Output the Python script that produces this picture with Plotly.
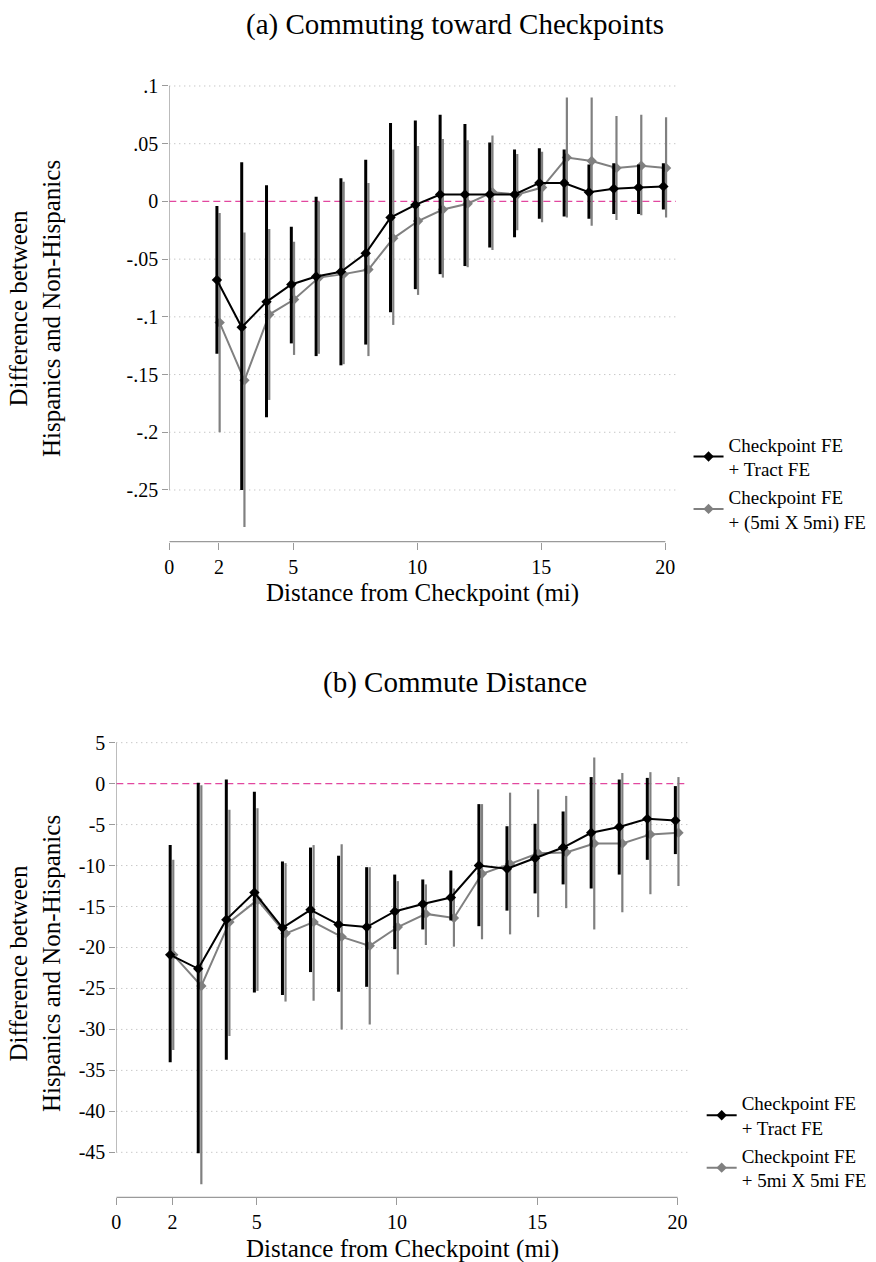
import plotly.graph_objects as go

# ---------------- data ----------------
distance = list(range(2, 21))
x_ticks = [0, 2, 5, 10, 15, 20]

# Panel (a): Commuting toward Checkpoints
a_tract = [-0.068, -0.109, -0.087, -0.072, -0.065, -0.061, -0.045, -0.014, -0.003,
           0.006, 0.006, 0.006, 0.006, 0.016, 0.016, 0.008, 0.011, 0.012, 0.013]
a_tract_hi = [-0.004, 0.034, 0.014, -0.022, 0.004, 0.020, 0.036, 0.068, 0.070,
              0.075, 0.067, 0.051, 0.045, 0.046, 0.045, 0.032, 0.033, 0.032, 0.033]
a_tract_lo = [-0.132, -0.250, -0.187, -0.123, -0.134, -0.142, -0.124, -0.096, -0.076,
              -0.063, -0.056, -0.040, -0.031, -0.015, -0.013, -0.015, -0.011, -0.011, -0.007]
a_grid = [-0.105, -0.155, -0.098, -0.085, -0.066, -0.063, -0.059, -0.032, -0.017,
          -0.007, -0.002, 0.008, 0.006, 0.012, 0.038, 0.035, 0.029, 0.031, 0.029]
a_grid_hi = [-0.010, -0.027, -0.024, -0.035, 0.000, 0.017, 0.016, 0.045, 0.048,
             0.054, 0.053, 0.057, 0.041, 0.043, 0.090, 0.090, 0.074, 0.075, 0.073]
a_grid_lo = [-0.200, -0.282, -0.172, -0.133, -0.132, -0.141, -0.134, -0.107, -0.081,
             -0.066, -0.057, -0.042, -0.025, -0.018, -0.014, -0.021, -0.016, -0.012, -0.014]
a_yticks = [0.1, 0.05, 0, -0.05, -0.1, -0.15, -0.2, -0.25]
a_yticklabels = [".1", ".05", "0", "-.05", "-.1", "-.15", "-.2", "-.25"]

# Panel (b): Commute Distance
b_tract = [-20.9, -22.6, -16.6, -13.3, -17.6, -15.4, -17.2, -17.5, -15.6,
           -14.7, -13.9, -10.0, -10.4, -9.1, -7.8, -6.0, -5.3, -4.3, -4.5]
b_tract_hi = [-7.5, 0.1, 0.5, -1.0, -9.5, -7.8, -8.8, -10.2, -11.1,
              -11.7, -10.6, -2.5, -5.2, -4.9, -3.4, 0.8, 0.5, 0.7, -0.3]
b_tract_lo = [-34.0, -45.1, -33.7, -25.5, -25.8, -23.0, -25.4, -24.8, -20.2,
              -17.8, -16.7, -17.4, -15.5, -13.4, -12.3, -12.8, -11.1, -9.3, -8.6]
b_grid = [-20.9, -24.7, -16.9, -14.2, -18.3, -16.9, -18.7, -19.8, -17.5,
          -15.9, -16.4, -11.0, -9.8, -8.5, -8.4, -7.3, -7.3, -6.2, -6.0]
b_grid_hi = [-9.3, -0.2, -3.2, -3.0, -9.7, -7.5, -7.4, -10.2, -11.9,
             -12.3, -12.8, -2.5, -1.1, -0.7, -1.5, 3.2, 1.3, 1.4, 0.8]
b_grid_lo = [-32.5, -48.9, -30.8, -25.3, -26.6, -26.5, -30.0, -29.4, -23.3,
             -19.7, -19.9, -19.0, -18.4, -16.3, -15.2, -17.8, -15.7, -13.5, -12.5]
b_yticks = [5, 0, -5, -10, -15, -20, -25, -30, -35, -40, -45]
b_yticklabels = ["5", "0", "-5", "-10", "-15", "-20", "-25", "-30", "-35", "-40", "-45"]

titles = ["(a) Commuting toward Checkpoints", "(b) Commute Distance"]
x_title = "Distance from Checkpoint (mi)"
y_title = "Difference between<br>Hispanics and Non-Hispanics"
leg_tract = "Checkpoint FE<br>+ Tract FE"
leg_grid_a = "Checkpoint FE<br>+ (5mi X 5mi) FE"
leg_grid_b = "Checkpoint FE<br>+ 5mi X 5mi FE"

# ---------------- styling ----------------
FONT = "Liberation Serif, Times New Roman, Times, serif"
BLACK = "#000000"
GRAY = "#808080"
AXC = "#9a9a9a"
GRIDC = "#b0b0b0"
PINK = "#e2479f"
DODGE_T = -0.08
DODGE_G = 0.03

fig = go.Figure()


def add_series(xaxis, yaxis, y, hi, lo, color, name, lw, ew, legend, rank):
    xs = [d + (DODGE_T if color == BLACK else DODGE_G) for d in distance]
    fig.add_trace(go.Scatter(
        x=xs, y=y, mode="lines+markers", name=name,
        xaxis=xaxis, yaxis=yaxis, legend=legend, legendrank=rank,
        line=dict(color=color, width=lw),
        marker=dict(symbol="diamond", size=8, color=color),
        error_y=dict(type="data", symmetric=False,
                     array=[h - v for h, v in zip(hi, y)],
                     arrayminus=[v - l for v, l in zip(y, lo)],
                     color=color, thickness=ew, width=0),
        hoverinfo="x+y",
    ))


add_series("x", "y", a_grid, a_grid_hi, a_grid_lo, GRAY, leg_grid_a, 2, 2.2, "legend", 2)
add_series("x", "y", a_tract, a_tract_hi, a_tract_lo, BLACK, leg_tract, 2, 3, "legend", 1)
add_series("x2", "y2", b_grid, b_grid_hi, b_grid_lo, GRAY, leg_grid_b, 2, 2.2, "legend2", 2)
add_series("x2", "y2", b_tract, b_tract_hi, b_tract_lo, BLACK, leg_tract, 2, 3, "legend2", 1)

tickfont = dict(family=FONT, size=20, color="black")
common_x = dict(showgrid=False, zeroline=False, showline=False, ticks="outside",
                ticklen=7, tickwidth=1.3, tickcolor=AXC, tickvals=x_ticks,
                tickfont=tickfont, fixedrange=True, automargin=False)
common_y = dict(showgrid=False, zeroline=False, showline=False, ticks="outside", ticklen=6,
                tickwidth=1.3, tickcolor=AXC, tickfont=tickfont, fixedrange=True,
                automargin=False)

fig.update_layout(
    template="none",
    width=876, height=1262, autosize=False,
    margin=dict(l=0, r=0, t=0, b=0, pad=0, autoexpand=False),
    paper_bgcolor="white", plot_bgcolor="white",
    font=dict(family=FONT, color="black"),
    xaxis=dict(domain=[0.19326, 0.77169], range=[0, 20.43], anchor="y", **common_x),
    yaxis=dict(domain=[0.57076, 0.93415], range=[-0.2948, 0.1025], anchor="x",
               tickvals=a_yticks, ticktext=a_yticklabels, **common_y),
    xaxis2=dict(domain=[0.13276, 0.78539], range=[0, 20.37], anchor="y2", **common_x),
    yaxis2=dict(domain=[0.05127, 0.41347], range=[-50.49, 5.3], anchor="x2",
                tickvals=b_yticks, ticktext=b_yticklabels, **common_y),
    legend=dict(x=0.786, y=0.663, xanchor="left", yanchor="top",
                font=dict(family=FONT, size=19, color="black"),
                bgcolor="rgba(0,0,0,0)", tracegroupgap=0, itemwidth=30),
    legend2=dict(x=0.801, y=0.141, xanchor="left", yanchor="top",
                 font=dict(family=FONT, size=19, color="black"),
                 bgcolor="rgba(0,0,0,0)", tracegroupgap=0, itemwidth=30),
    showlegend=True,
)

shapes = []
# dotted horizontal gridlines at the y ticks (drawn below the data)
for v in a_yticks:
    shapes.append(dict(type="line", xref="x domain", yref="y", x0=0, x1=1, y0=v, y1=v,
                       layer="below", line=dict(color=GRIDC, width=1, dash="1px,4px")))
for v in b_yticks:
    shapes.append(dict(type="line", xref="x2 domain", yref="y2", x0=0, x1=1, y0=v, y1=v,
                       layer="below", line=dict(color=GRIDC, width=1, dash="1px,4px")))
# zero reference lines (over the gridlines, under the data)
shapes.append(dict(type="line", xref="x domain", yref="y", x0=0, x1=1, y0=0, y1=0, layer="below",
                   line=dict(color="white", width=2)))
shapes.append(dict(type="line", xref="x domain", yref="y", x0=0, x1=1, y0=0, y1=0, layer="below",
                   line=dict(color=PINK, width=1.3, dash="7px,4px")))
shapes.append(dict(type="line", xref="x2 domain", yref="y2", x0=0, x1=1, y0=0, y1=0, layer="below",
                   line=dict(color="white", width=2)))
shapes.append(dict(type="line", xref="x2 domain", yref="y2", x0=0, x1=1, y0=0, y1=0, layer="below",
                   line=dict(color=PINK, width=1.3, dash="7px,4px")))
# axis lines
shapes.append(dict(type="line", xref="x", yref="y", x0=0, x1=0, y0=a_yticks[-1], y1=a_yticks[0],
                   line=dict(color=AXC, width=1.3)))
shapes.append(dict(type="line", xref="x", yref="y domain", x0=x_ticks[0], x1=x_ticks[-1], y0=0, y1=0,
                   line=dict(color=AXC, width=1.3)))
shapes.append(dict(type="line", xref="x2", yref="y2", x0=0, x1=0, y0=b_yticks[-1], y1=b_yticks[0],
                   line=dict(color=AXC, width=1.3)))
shapes.append(dict(type="line", xref="x2", yref="y2 domain", x0=x_ticks[0], x1=x_ticks[-1], y0=0, y1=0,
                   line=dict(color=AXC, width=1.3)))
fig.update_layout(shapes=shapes)

ann = []
ann.append(dict(text=titles[0], x=0.5194, y=0.9802, xref="paper", yref="paper",
                showarrow=False, xanchor="center", yanchor="middle",
                font=dict(family=FONT, size=29, color="black")))
ann.append(dict(text=titles[1], x=0.5194, y=0.4588, xref="paper", yref="paper",
                showarrow=False, xanchor="center", yanchor="middle",
                font=dict(family=FONT, size=29, color="black")))
ann.append(dict(text=x_title, x=0.5, y=0.5301, xref="x domain", yref="paper",
                showarrow=False, xanchor="center", yanchor="middle",
                font=dict(family=FONT, size=25, color="black")))
ann.append(dict(text=x_title, x=0.5, y=0.0103, xref="x2 domain", yref="paper",
                showarrow=False, xanchor="center", yanchor="middle",
                font=dict(family=FONT, size=25, color="black")))
ann.append(dict(text=y_title, x=0.04, y=1 - 309 / 1262, xref="paper", yref="paper",
                showarrow=False, xanchor="center", yanchor="middle", textangle=-90,
                font=dict(family=FONT, size=25, color="black")))
ann.append(dict(text=y_title, x=0.04, y=1 - 964 / 1262, xref="paper", yref="paper",
                showarrow=False, xanchor="center", yanchor="middle", textangle=-90,
                font=dict(family=FONT, size=25, color="black")))
fig.update_layout(annotations=ann)

fig.write_html("out.html")
